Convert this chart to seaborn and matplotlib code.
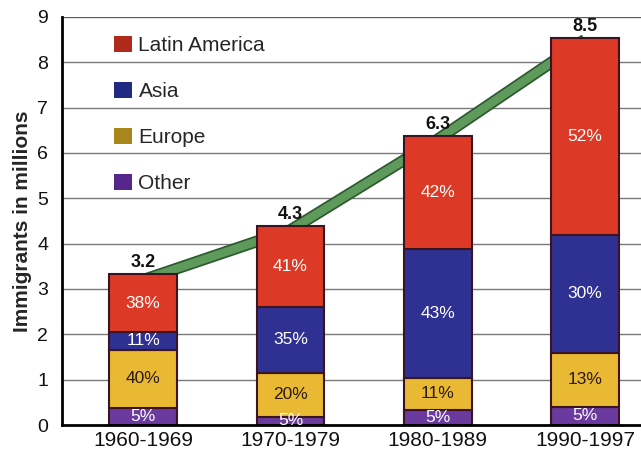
import pandas as pd
import numpy as np
import matplotlib
matplotlib.use("Agg")
import matplotlib.pyplot as plt
import matplotlib.patheffects as pe
from matplotlib.patches import Patch
import seaborn as sns

# Data (millions of immigrants)
periods = ["1960-1969", "1970-1979", "1980-1989", "1990-1997"]
other = [0.37, 0.18, 0.33, 0.40]
europe = [1.29, 0.97, 0.71, 1.19]
asia = [0.39, 1.46, 2.85, 2.60]
latin = [1.28, 1.78, 2.49, 4.35]
totals = [3.2, 4.3, 6.3, 8.5]
pct_other = ["5%", "5%", "5%", "5%"]
pct_europe = ["40%", "20%", "11%", "13%"]
pct_asia = ["11%", "35%", "43%", "30%"]
pct_latin = ["38%", "41%", "42%", "52%"]
total_labels = ["3.2", "4.3", "6.3", "8.5"]

sns.set_style("white")
plt.rcParams['font.family'] = ['Liberation Sans', 'DejaVu Sans']

df = pd.DataFrame({"period": periods, "Other": other, "Europe": europe,
                   "Asia": asia, "Latin America": latin})

colors = {"Other": "#6a3a9e", "Europe": "#e9b934",
          "Asia": "#2f3192", "Latin America": "#dc3a26"}
legend_colors = {"Latin America": "#b02a1c", "Asia": "#1f2a80",
                 "Europe": "#a8861c", "Other": "#55268c"}
text_colors = {"Other": "white", "Europe": "#2a1a10",
               "Asia": "white", "Latin America": "white"}
pct = {"Other": pct_other, "Europe": pct_europe,
       "Asia": pct_asia, "Latin America": pct_latin}
order = ["Other", "Europe", "Asia", "Latin America"]

fig = plt.figure(figsize=(6.41, 4.57), dpi=100)
ax = fig.add_axes([0.097, 0.070, 0.903, 0.893])

# gridlines
for yv in range(1, 10):
    ax.axhline(yv, color="#7a7a7a", lw=1.0, zorder=0)

# green trend line behind the bars
ax.plot(range(len(periods)), totals, color="#5e9a5c", lw=6, zorder=1,
        solid_capstyle="butt",
        path_effects=[pe.Stroke(linewidth=8.5, foreground="#2c5a2c"), pe.Normal()])

bottom = np.zeros(len(periods))
for cat in order:
    sns.barplot(data=df, x="period", y=cat, bottom=bottom, color=colors[cat],
                width=0.46, edgecolor="#3a1420", linewidth=1.5, ax=ax,
                saturation=1, zorder=2)
    vals = df[cat].values
    for i, v in enumerate(vals):
        ax.text(i, bottom[i] + v / 2, pct[cat][i], ha="center", va="center",
                color=text_colors[cat], fontsize=12.5, zorder=4)
    bottom = bottom + vals

for i, t in enumerate(total_labels):
    ax.text(i, bottom[i] + 0.06, t, ha="center", va="bottom",
            fontsize=13, fontweight="bold", color="#111111", zorder=4)

ax.set_xlim(-0.55, 3.38)
ax.set_ylim(0, 9)
ax.set_yticks(range(0, 10))
ax.tick_params(axis="both", length=0, colors="#111111")
ax.tick_params(axis="y", pad=10, labelsize=14)
ax.tick_params(axis="x", pad=4, labelsize=15)
ax.set_xlabel("")
ax.set_ylabel("Immigrants in millions", fontsize=15, fontweight="bold", labelpad=4)

for s in ["top", "right"]:
    ax.spines[s].set_visible(False)
ax.axhline(9, color="#555555", lw=1.2, zorder=0)
ax.spines["left"].set_linewidth(2)
ax.spines["bottom"].set_linewidth(2)
ax.spines["left"].set_color("black")
ax.spines["bottom"].set_color("black")

handles = [Patch(facecolor=legend_colors[c], edgecolor="none", label=c)
           for c in ["Latin America", "Asia", "Europe", "Other"]]
leg = ax.legend(handles=handles, loc="upper left", bbox_to_anchor=(0.058, 1.0),
                frameon=False, fontsize=15, labelspacing=1.27, handlelength=0.85,
                handleheight=0.85, handletextpad=0.3)

fig.savefig("out.png", dpi=100)
